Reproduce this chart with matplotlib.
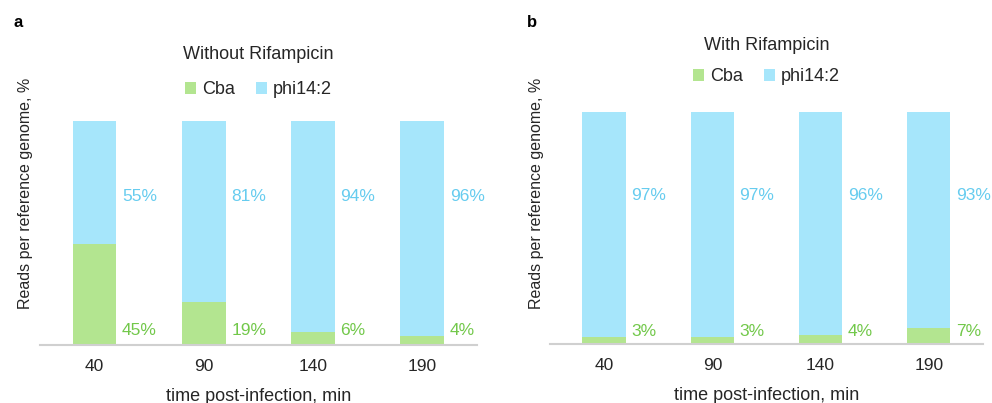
import matplotlib.pyplot as plt

plt.rcParams['font.family'] = ['Liberation Sans', 'DejaVu Sans']

times = ['40', '90', '140', '190']
cba_without = [45, 19, 6, 4]
phi_without = [55, 81, 94, 96]
cba_with = [3, 3, 4, 7]
phi_with = [97, 97, 96, 93]

green = '#b3e590'
blue = '#a6e6fb'
green_txt = '#72c84a'
blue_txt = '#66ccef'
dark = '#262626'
fs = 12.5

fig = plt.figure(figsize=(9.92, 4.03), dpi=100)
ax1 = fig.add_axes([0.0403, 0.1439, 0.4405, 0.5558])
ax2 = fig.add_axes([0.5544, 0.1464, 0.4365, 0.5757])

panels = [
    (ax1, cba_without, phi_without, 'Without Rifampicin', 'a', 66.5, 6.3, 0.866, 0.777, 0.018, 0.033),
    (ax2, cba_with, phi_with, 'With Rifampicin', 'b', 64.0, 5.6, 0.888, 0.809, 0.536, 0.548),
]

for ax, cba, phi, title, letter, ytop, ybot, ty, ly, lx, yx in panels:
    x = list(range(len(times)))
    ax.bar(x, cba, width=0.4, color=green, label='Cba')
    ax.bar(x, phi, width=0.4, bottom=cba, color=blue, label='phi14:2')
    for i in x:
        ax.text(i + 0.25, ytop, f'{phi[i]}%', color=blue_txt, fontsize=fs, va='center', ha='left')
        ax.text(i + 0.25, ybot, f'{cba[i]}%', color=green_txt, fontsize=fs, va='center', ha='left')
    ax.set_xlim(-0.5, 3.5)
    ax.set_ylim(0, 100)
    ax.set_xticks(x)
    ax.set_xticklabels(times, fontsize=fs, color=dark)
    ax.tick_params(axis='x', length=0, pad=10)
    ax.set_yticks([])
    for s in ['top', 'right', 'left']:
        ax.spines[s].set_visible(False)
    ax.spines['bottom'].set_color('#d0d0d0')
    ax.spines['bottom'].set_linewidth(1.5)
    ax.set_xlabel('time post-infection, min', fontsize=13, color=dark, labelpad=10)
    ax.set_ylabel('Reads per reference genome, %', fontsize=11.5, color=dark)
    ax.yaxis.set_label_coords(yx, 0.519, transform=fig.transFigure)
    pos = ax.get_position()
    cx = (pos.x0 + pos.x1) / 2
    fig.text(cx, ty, title, fontsize=13, color=dark, ha='center', va='center')
    ax.legend(loc='center', bbox_to_anchor=(cx, ly), bbox_transform=fig.transFigure, ncol=2,
              frameon=False, fontsize=13, handlelength=0.6, handleheight=0.6,
              handletextpad=0.3, columnspacing=1.2, labelcolor=dark)
    fig.text(lx, 0.945, letter, fontsize=12, fontweight='bold', ha='center', va='center')

fig.savefig('out.png', dpi=100)
